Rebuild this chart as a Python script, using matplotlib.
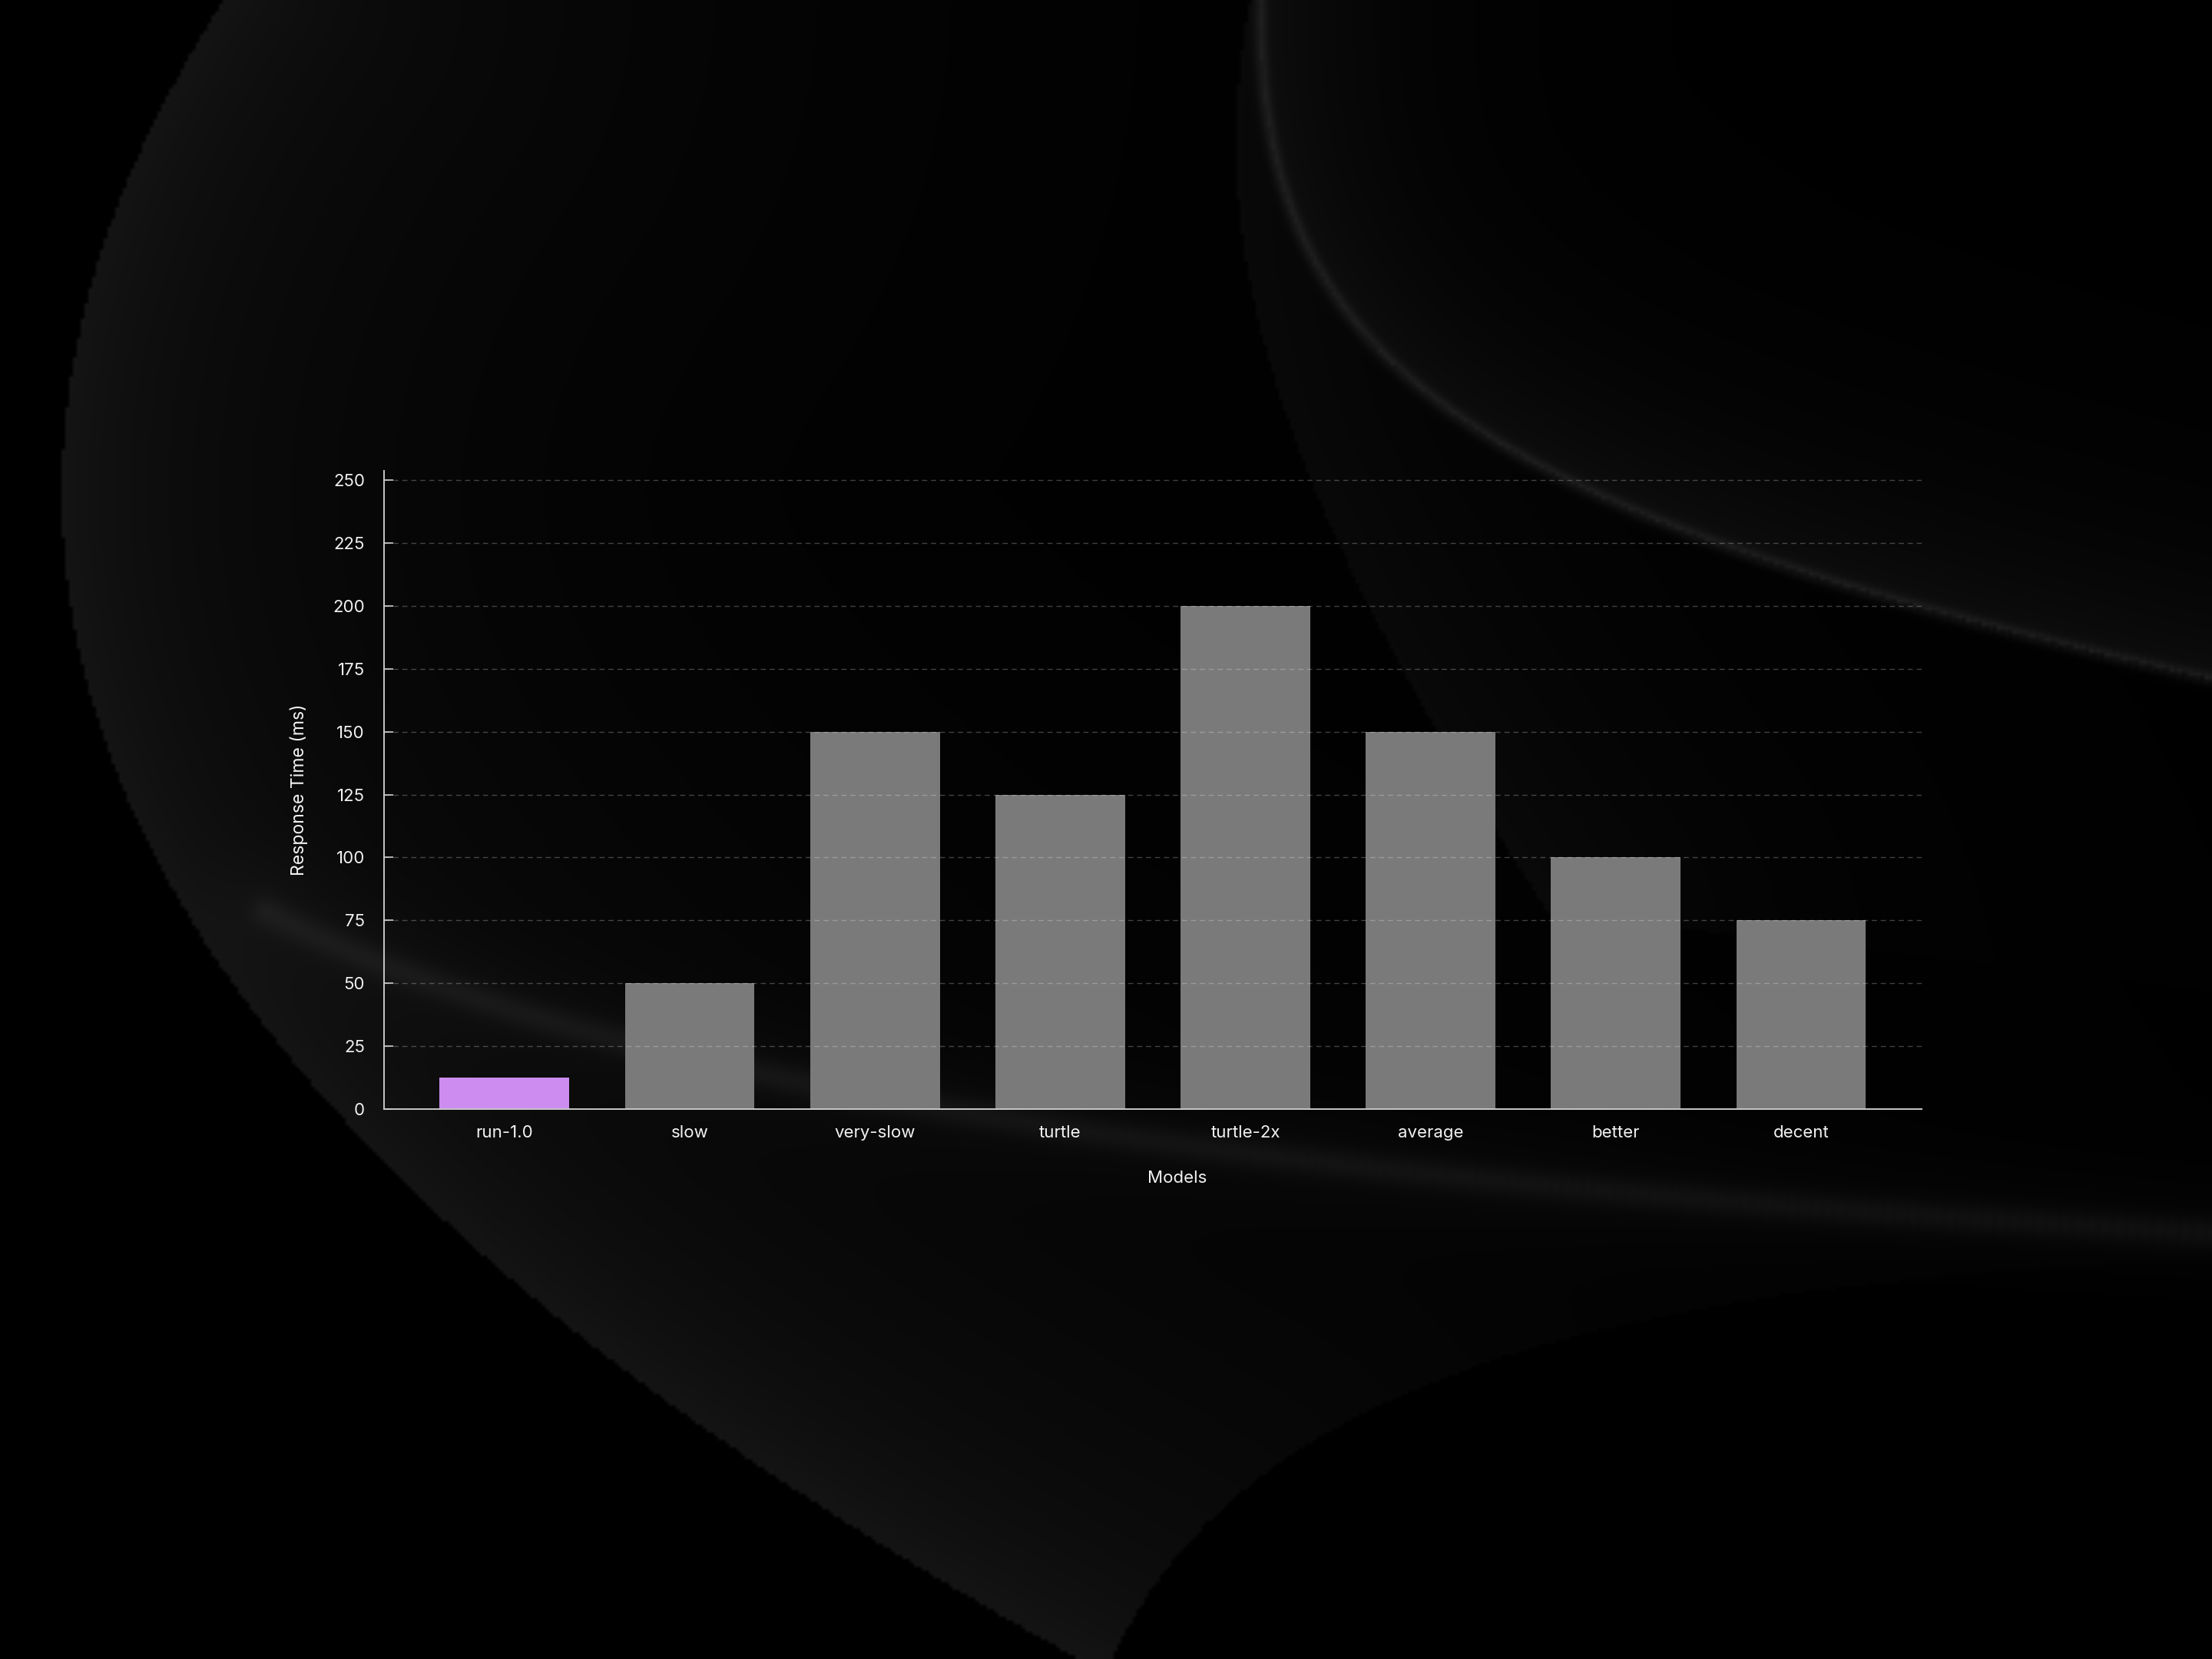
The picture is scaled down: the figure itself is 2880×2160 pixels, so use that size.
import matplotlib.pyplot as plt
import numpy as np
from matplotlib.path import Path

plt.rcParams["font.family"] = ["Inter", "DejaVu Sans"]
plt.rcParams["lines.scale_dashes"] = False

# data
models = ["run-1.0", "slow", "very-slow", "turtle", "turtle-2x", "average", "better", "decent"]
response_ms = [12.5, 50, 150, 125, 200, 150, 100, 75]
highlight_model = "run-1.0"
y_ticks = [0, 25, 50, 75, 100, 125, 150, 175, 200, 225, 250]

BAR_GREY = "#7a7a7a"
BAR_PURPLE = "#cd8cf0"
TEXT = "#f2f2f2"


def bezier(p0, p1, p2, p3, n=250):
    t = np.linspace(0, 1, n)[:, None]
    p0, p1, p2, p3 = (np.asarray(p, dtype=float) for p in (p0, p1, p2, p3))
    return (1 - t) ** 3 * p0 + 3 * (1 - t) ** 2 * t * p1 + 3 * (1 - t) * t ** 2 * p2 + t ** 3 * p3


def curve_distance(xx, yy, curve, aspect):
    u = xx * aspect
    cu = curve[:, 0] * aspect
    cv = curve[:, 1]
    d = np.full(xx.shape, np.inf)
    for i in range(0, len(cu), 10):
        du = u[..., None] - cu[None, None, i:i + 10]
        dv = yy[..., None] - cv[None, None, i:i + 10]
        d = np.minimum(d, np.sqrt(du ** 2 + dv ** 2).min(axis=-1))
    return d


def inside(xx, yy, poly):
    pts = np.column_stack([xx.ravel(), yy.ravel()])
    return Path(poly).contains_points(pts).reshape(xx.shape)


def draw_backdrop(fig):
    """Dark silk-like swooshes behind the chart (decoration only)."""
    bg = fig.add_axes([0, 0, 1, 1], zorder=0)
    bg.set_axis_off()
    aspect = 4 / 3
    ny, nx = 432, 576
    yy, xx = np.mgrid[0:1:ny * 1j, 0:1:nx * 1j]
    img = np.zeros_like(xx)

    # left swoosh: sharp outer rim, soft fade towards the chart
    outer = bezier((0.105, -0.01), (-0.05, 0.3), (0.0, 0.65), (0.5, 1.01))
    lower = bezier((0.5, 1.01), (0.55, 0.85), (0.7, 0.77), (1.02, 0.76))
    left_poly = np.vstack([outer, lower, [[1.02, -0.01]]])
    mask = inside(xx, yy, left_poly)
    d = curve_distance(xx, yy, outer, aspect)
    img += mask * (0.055 * np.exp(-d / 0.28) + 0.025 * np.exp(-d / 0.05))

    # bright streak under the bars
    streak = bezier((0.12, 0.55), (0.25, 0.64), (0.5, 0.71), (1.02, 0.745))
    d = curve_distance(xx, yy, streak, aspect)
    img += 0.045 * np.exp(-(d / 0.009) ** 2) + 0.015 * np.exp(-(d / 0.035) ** 2)

    # right swoosh: faint body plus a lit rim
    r_left = bezier((0.567, -0.01), (0.54, 0.15), (0.58, 0.3), (0.7, 0.55))
    rim = bezier((0.57, -0.01), (0.565, 0.22), (0.66, 0.31), (1.02, 0.415))
    body = inside(xx, yy, np.vstack([r_left, [[1.02, 0.6]], rim[::-1]]))
    d = curve_distance(xx, yy, r_left, aspect)
    img += body * 0.03 * np.exp(-d / 0.12)
    above = inside(xx, yy, np.vstack([rim, [[1.02, -0.01]]]))
    d = curve_distance(xx, yy, rim, aspect)
    img += above * 0.05 * np.exp(-d / 0.07)
    img += 0.07 * np.exp(-(d / 0.004) ** 2)

    bg.imshow(np.clip(img, 0, 1), cmap="gray", vmin=0, vmax=1, extent=[0, 1, 1, 0],
              aspect="auto", interpolation="bilinear")
    bg.set_xlim(0, 1)
    bg.set_ylim(1, 0)


fig = plt.figure(figsize=(14.4, 10.8), dpi=200, facecolor="black")
draw_backdrop(fig)

ax = fig.add_axes([0.1736, 0.3315, 0.6951, 0.3847], zorder=1)
ax.patch.set_alpha(0)

x = np.arange(len(models))
colors = [BAR_PURPLE if m == highlight_model else BAR_GREY for m in models]
ax.bar(x, response_ms, width=0.7, color=colors, zorder=2)

ax.set_xlim(-0.65, len(models) - 0.35)
ax.set_ylim(0, 253.7)
ax.set_xticks(x)
ax.set_xticklabels(models)
ax.set_yticks(y_ticks)

ax.set_axisbelow(False)
ax.yaxis.grid(True, color="white", alpha=0.25, linewidth=0.5, linestyle=(0, (2.4, 1.8)), zorder=3)
ax.xaxis.grid(False)

for side in ("top", "right"):
    ax.spines[side].set_visible(False)
for side in ("left", "bottom"):
    ax.spines[side].set_color("#c8c8c8")
    ax.spines[side].set_linewidth(0.7)
    ax.spines[side].set_zorder(4)

ax.tick_params(axis="y", direction="in", length=4.3, width=0.6, color="#d0d0d0",
               labelsize=8, labelcolor=TEXT, pad=9)
ax.tick_params(axis="x", length=0, labelsize=8, labelcolor=TEXT, pad=7.6)

ax.set_xlabel("Models", color=TEXT, fontsize=8, va="center")
ax.xaxis.set_label_coords(0.516, -0.1086)
ax.set_ylabel("Response Time (ms)", color=TEXT, fontsize=8.3, va="center")
ax.yaxis.set_label_coords(-0.0554, 0.5)

fig.savefig("out.png", dpi=200, facecolor="black")
plt.close(fig)
